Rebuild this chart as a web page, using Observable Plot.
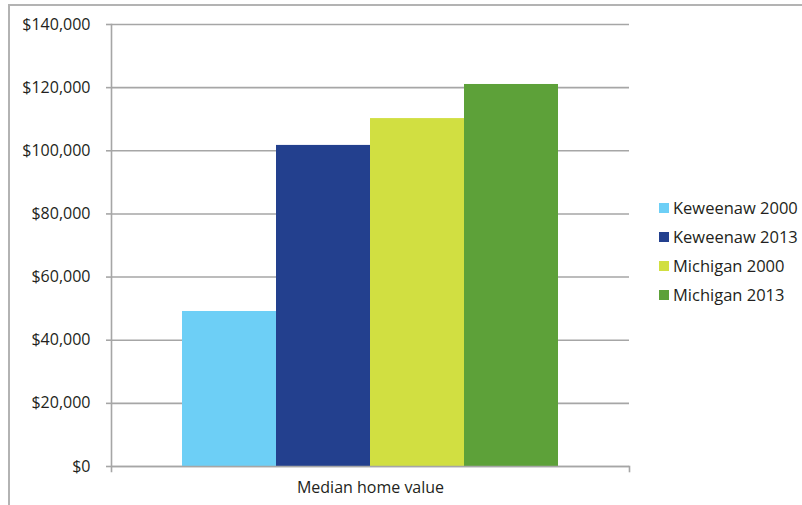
<!DOCTYPE html>
<html>
<head>
<meta charset="utf-8">
<script src="https://cdn.jsdelivr.net/npm/d3@7"></script>
<script src="https://cdn.jsdelivr.net/npm/@observablehq/plot@0.6"></script>
<style>
  html, body { margin: 0; padding: 0; background: #fff; }
  #wrap { position: relative; width: 802px; height: 505px; overflow: hidden; font-family: "Open Sans", sans-serif; color: #231f20; }
  #frameTop { position: absolute; left: 9px; top: 4px; width: 800px; height: 0; border-top: 2px solid #b3b3b3; }
  #frameLeft { position: absolute; left: 8px; top: 4px; width: 0; height: 510px; border-left: 2px solid #b3b3b3; }
  #legend { position: absolute; left: 659px; top: 193px; font-size: 16.5px; }
  .row { display: flex; align-items: center; height: 29px; }
  .sw { width: 10px; height: 10px; margin-right: 4px; }
  svg { position: absolute; left: 0; top: 0; }
</style>
</head>
<body>
<div id="wrap">
  <div id="frameTop"></div>
  <div id="frameLeft"></div>
</div>
<script>
const category = ["Median home value"];
const series = ["Keweenaw 2000", "Keweenaw 2013", "Michigan 2000", "Michigan 2013"];
const values = [49100, 101700, 110200, 121000];
const colors = ["#6dcff6", "#23408e", "#d1df41", "#5da139"];
const yTicks = [0, 20000, 40000, 60000, 80000, 100000, 120000, 140000];

const data = series.map((s, i) => ({cat: category[0], series: s, value: values[i]}));
const gray = "#a6a6a6";

const plot = Plot.plot({
  width: 802,
  height: 505,
  marginLeft: 111,
  marginRight: 173,
  marginTop: 24,
  marginBottom: 39,
  style: {fontFamily: "'Open Sans', sans-serif", fontSize: "16px", color: "#231f20", background: "transparent"},
  fx: {domain: category, padding: 0, label: null},
  x: {domain: series, paddingInner: 0, paddingOuter: 0.748, axis: null},
  y: {domain: [0, 140000], ticks: yTicks, label: null},
  color: {domain: series, range: colors},
  marks: [
    Plot.ruleY(yTicks, {y: d => d, stroke: gray, strokeWidth: 1.6}),
    Plot.barY(data, {fx: "cat", x: "series", y: "value", fill: "series"}),
    Plot.ruleY([0], {stroke: gray, strokeWidth: 1.6}),
    Plot.frame({anchor: "left", stroke: gray, strokeWidth: 1.6, insetBottom: -5}),
    Plot.frame({anchor: "right", stroke: gray, strokeWidth: 1.6, insetTop: 442, insetBottom: -5}),
    Plot.axisY(yTicks, {tickSize: 5, stroke: gray, strokeWidth: 1.6, text: null}),
    Plot.axisY(yTicks, {tickSize: 0, tickPadding: 21, tickFormat: d3.format("$,"), fill: "#231f20", fontSize: 16}),
    Plot.axisFx({anchor: "bottom", tickSize: 0, tickPadding: 15, label: null, fontSize: 16, fill: "#231f20"})
  ]
});
document.getElementById("wrap").appendChild(plot);

const color = plot.scale("color");
const legend = document.createElement("div");
legend.id = "legend";
series.forEach(s => {
  const row = document.createElement("div");
  row.className = "row";
  const sw = document.createElement("div");
  sw.className = "sw";
  sw.style.background = color.apply(s);
  const t = document.createElement("span");
  t.textContent = s;
  row.appendChild(sw);
  row.appendChild(t);
  legend.appendChild(row);
});
document.getElementById("wrap").appendChild(legend);
</script>
</body>
</html>
